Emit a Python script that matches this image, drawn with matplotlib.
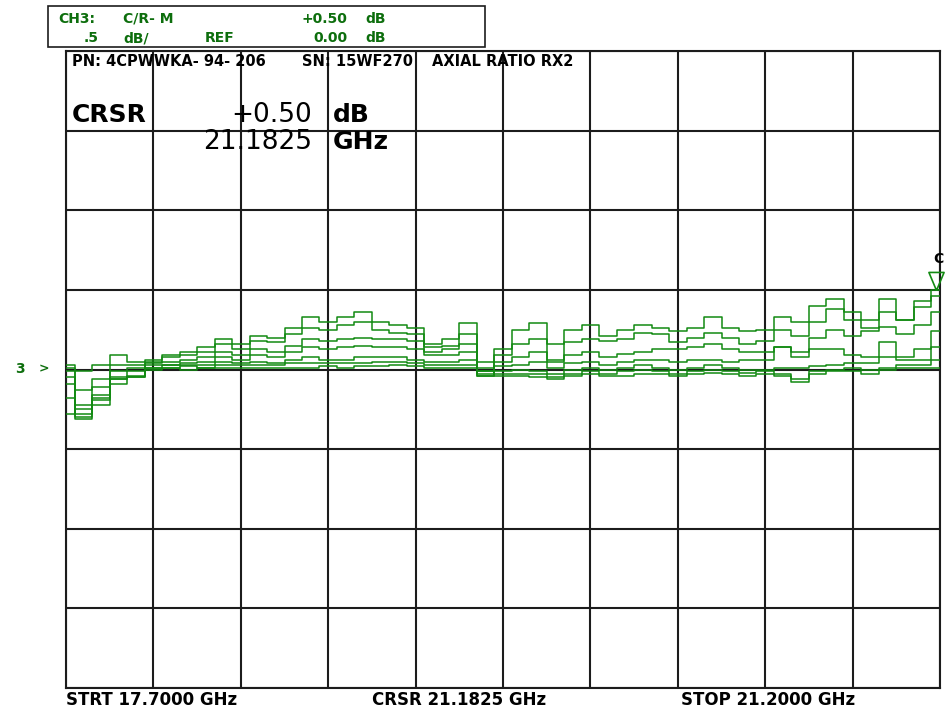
import numpy as np
import matplotlib
matplotlib.use("Agg")
import matplotlib.pyplot as plt

# sweep: 17.7 - 21.2 GHz, 51 points
freq_ghz = np.linspace(17.7, 21.2, 51)

# axial ratio traces (dB), top trace first
trace_a = [0.03, -0.01, 0.03, 0.09, 0.05, 0.06, 0.09, 0.11, 0.14, 0.19, 0.16, 0.21, 0.20,
           0.26, 0.33, 0.30, 0.33, 0.36, 0.30, 0.28, 0.26, 0.16, 0.19, 0.29, 0.05, 0.13,
           0.25, 0.29, 0.16, 0.25, 0.28, 0.21, 0.25, 0.28, 0.26, 0.24, 0.26, 0.33, 0.26,
           0.24, 0.25, 0.33, 0.30, 0.40, 0.44, 0.36, 0.31, 0.44, 0.31, 0.43, 0.50]
trace_b = [0.01, -0.13, -0.06, 0.03, 0.03, 0.05, 0.08, 0.09, 0.11, 0.16, 0.13, 0.18, 0.17,
           0.22, 0.26, 0.25, 0.28, 0.30, 0.25, 0.23, 0.22, 0.14, 0.15, 0.22, 0.01, 0.09,
           0.16, 0.19, 0.06, 0.17, 0.19, 0.18, 0.19, 0.23, 0.22, 0.17, 0.20, 0.23, 0.20,
           0.16, 0.18, 0.25, 0.21, 0.30, 0.38, 0.31, 0.26, 0.36, 0.31, 0.39, 0.46]
trace_c = [-0.01, -0.22, -0.11, -0.01, 0.01, 0.04, 0.05, 0.06, 0.08, 0.11, 0.09, 0.13, 0.11,
           0.15, 0.19, 0.18, 0.19, 0.20, 0.19, 0.19, 0.18, 0.11, 0.13, 0.16, -0.01, 0.05,
           0.08, 0.11, 0.05, 0.09, 0.11, 0.08, 0.10, 0.11, 0.13, 0.13, 0.14, 0.16, 0.13,
           0.11, 0.11, 0.14, 0.11, 0.20, 0.25, 0.21, 0.24, 0.27, 0.22, 0.28, 0.36]
trace_d = [-0.05, -0.28, -0.18, -0.05, -0.01, 0.03, 0.03, 0.04, 0.05, 0.08, 0.06, 0.09, 0.08,
           0.11, 0.14, 0.13, 0.14, 0.15, 0.14, 0.14, 0.13, 0.09, 0.09, 0.11, -0.03, 0.02,
           0.03, 0.05, 0.01, 0.04, 0.05, 0.03, 0.05, 0.06, 0.06, 0.05, 0.06, 0.06, 0.05,
           0.06, 0.06, 0.14, 0.08, 0.13, 0.13, 0.09, 0.08, 0.17, 0.08, 0.13, 0.24]
trace_e = [-0.09, -0.31, -0.22, -0.09, -0.05, 0.01, 0.03, 0.03, 0.03, 0.05, 0.04, 0.05, 0.04,
           0.06, 0.08, 0.06, 0.06, 0.08, 0.08, 0.08, 0.06, 0.05, 0.05, 0.06, -0.04, -0.01,
           0.00, -0.01, -0.03, 0.00, 0.01, 0.00, 0.01, 0.03, 0.01, 0.00, 0.01, 0.03, 0.01,
           0.00, 0.00, 0.01, 0.01, 0.02, 0.03, 0.04, 0.04, 0.08, 0.06, 0.06, 0.14]
trace_f = [-0.18, -0.30, -0.19, -0.06, -0.04, 0.01, 0.01, 0.02, 0.01, 0.03, 0.03, 0.03, 0.03,
           0.04, 0.04, 0.04, 0.04, 0.04, 0.05, 0.05, 0.04, 0.03, 0.03, 0.03, -0.04, -0.03,
           -0.03, -0.03, -0.05, -0.03, -0.01, -0.03, -0.01, 0.00, -0.01, -0.03, -0.01, 0.00,
           -0.01, -0.02, -0.01, -0.03, -0.06, -0.01, 0.00, 0.01, 0.00, 0.01, 0.03, 0.03, 0.06]
trace_g = [-0.28, -0.25, -0.16, -0.06, -0.05, 0.00, 0.01, 0.00, 0.01, 0.01, 0.01, 0.01, 0.01,
           0.01, 0.01, 0.02, 0.01, 0.02, 0.02, 0.03, 0.02, 0.01, 0.01, 0.01, -0.01, -0.04,
           -0.04, -0.05, -0.06, -0.04, -0.03, -0.04, -0.04, -0.03, -0.03, -0.04, -0.03, -0.02,
           -0.03, -0.04, -0.03, -0.04, -0.08, -0.03, -0.01, -0.01, -0.03, 0.00, 0.01, 0.01, 0.01]
traces = [trace_a, trace_b, trace_c, trace_d, trace_e, trace_f, trace_g]

start_ghz, stop_ghz = 17.7, 21.2
cursor_ghz, cursor_db = 21.1825, 0.50
scale_db = 0.5      # dB/div
ref_db = 0.0

W, H = 953, 710
fig = plt.figure(figsize=(W / 100, H / 100), dpi=100)
ax = fig.add_axes([66 / W, 1 - 688 / H, (940 - 66) / W, (688 - 51) / H])

trace_col = "#128a12"
text_green = "#0d6e0d"

for tr in traces:
    ax.plot(freq_ghz, tr, color=trace_col, lw=1.1, drawstyle="steps-mid", zorder=3)

ax.set_xlim(start_ghz, stop_ghz)
ax.set_ylim(ref_db - 4 * scale_db, ref_db + 4 * scale_db)
ax.set_xticks(np.linspace(start_ghz, stop_ghz, 11))
ax.set_yticks(np.arange(-4, 5) * scale_db)
ax.tick_params(length=0, labelbottom=False, labelleft=False)
ax.grid(True, color="#1c1c1c", lw=1.5, zorder=2)
ax.set_axisbelow(True)
for s in ax.spines.values():
    s.set_color("#1c1c1c")
    s.set_linewidth(1.5)

# cursor marker (triangle with tip on the trace)
tri = [(0, 0), (-0.42, 1), (0.42, 1), (0, 0)]
ax.plot([cursor_ghz], [cursor_db], marker=tri, ms=26, mfc="none", mec=trace_col,
        mew=1.2, zorder=4, clip_on=False)


def ftext(x, y, s, **kw):
    # place text by pixel position on the screen
    fig.text(x / W, 1 - y / H, s, **kw)


# header box
fig.patches.append(plt.Rectangle((48 / W, 1 - 47 / H), (485 - 48) / W, 41 / H,
                                 transform=fig.transFigure, fill=False,
                                 ec="#1c1c1c", lw=1.2))
hk = dict(color=text_green, fontsize=10, fontweight="bold", va="center")
ftext(58, 19, "CH3:", **hk)
ftext(123, 19, "C/R- M", **hk)
ftext(347, 19, "+0.50", ha="right", **hk)
ftext(365, 19, "dB", **hk)
ftext(84, 38, ".5", **hk)
ftext(123, 38, "dB/", **hk)
ftext(205, 38, "REF", **hk)
ftext(347, 38, "0.00", ha="right", **hk)
ftext(365, 38, "dB", **hk)

# title inside grid
tk = dict(color="black", fontsize=10.5, fontweight="bold", va="center")
ftext(72, 62, "PN: 4CPWWKA- 94- 206", **tk)
ftext(302, 62, "SN: 15WF270", **tk)
ftext(432, 62, "AXIAL RATIO RX2", **tk)

# cursor readout
ftext(72, 115, "CRSR", color="black", fontsize=18, fontweight="bold", va="center")
ftext(312, 115, "+0.50", color="black", fontsize=19, fontweight="medium",
      ha="right", va="center")
ftext(333, 115, "dB", color="black", fontsize=18, fontweight="bold", va="center")
ftext(312, 142, "21.1825", color="black", fontsize=19, fontweight="medium",
      ha="right", va="center")
ftext(333, 142, "GHz", color="black", fontsize=18, fontweight="bold", va="center")

# reference position and cursor label
ftext(15, 369, "3", color=text_green, fontsize=10, fontweight="bold", va="center")
ftext(39, 369, ">", color=text_green, fontsize=9, fontweight="bold", va="center")
ftext(938, 259, "C", color="black", fontsize=10, fontweight="bold", va="center", ha="center")

# bottom annotation
bk = dict(color="black", fontsize=12, fontweight="bold", va="center")
ftext(66, 700, "STRT 17.7000 GHz", **bk)
ftext(372, 700, "CRSR 21.1825 GHz", **bk)
ftext(681, 700, "STOP 21.2000 GHz", **bk)

fig.savefig("out.png", dpi=100)
